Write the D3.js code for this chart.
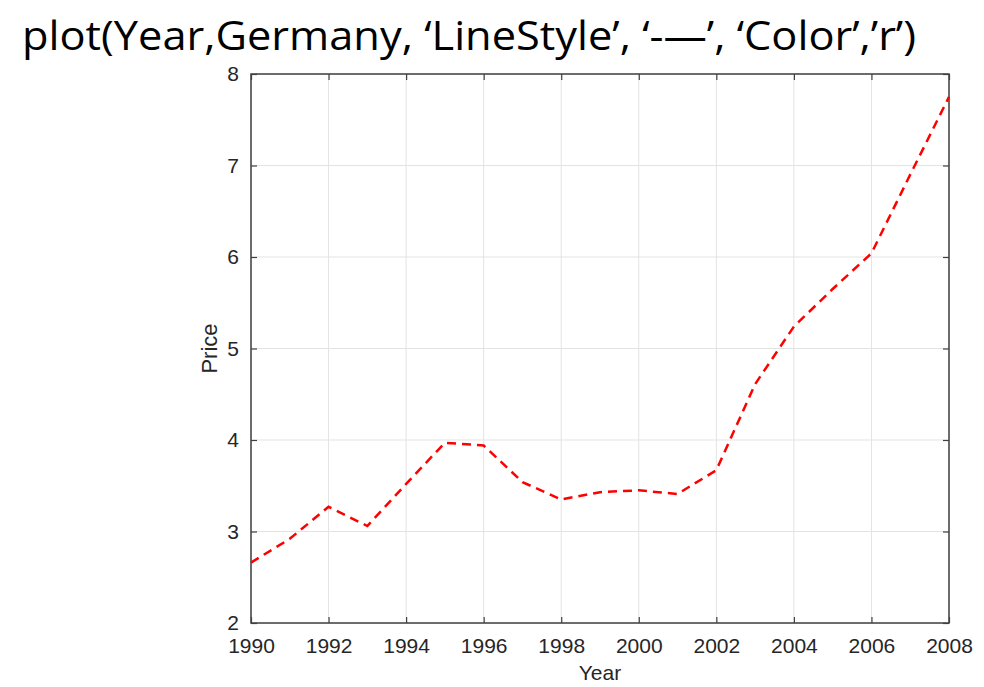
<!DOCTYPE html>
<html>
<head>
<meta charset="utf-8">
<script src="https://cdn.jsdelivr.net/npm/d3@7"></script>
<style>
  body { margin: 0; background: #fff; }
  svg { display: block; }
</style>
</head>
<body>
<div id="chart"></div>
<script>
// years on the x axis
const years = [1990, 1991, 1992, 1993, 1994, 1995, 1996, 1997, 1998, 1999,
               2000, 2001, 2002, 2003, 2004, 2005, 2006, 2007, 2008];
// Germany price series
const germany = [2.66, 2.92, 3.27, 3.06, 3.52, 3.97, 3.94, 3.54, 3.35, 3.43,
                 3.45, 3.41, 3.67, 4.61, 5.24, 5.65, 6.04, 6.90, 7.75];
const xTicks = [1990, 1992, 1994, 1996, 1998, 2000, 2002, 2004, 2006, 2008];
const yTicks = [2, 3, 4, 5, 6, 7, 8];
const titleText = "plot(Year,Germany, \u2018LineStyle\u2019, \u2018-\u2014\u2019, \u2018Color\u2019,\u2019r\u2019)";

const width = 984, height = 687;
const margin = { top: 74, right: 35, bottom: 64, left: 251 };
const plotW = width - margin.left - margin.right;
const plotH = height - margin.top - margin.bottom;
const axisColor = "#404040";
const font = "Liberation Sans, Arial, sans-serif";

const svg = d3.select("#chart")
  .append("svg")
  .attr("width", width)
  .attr("height", height);

// title
svg.append("text")
  .attr("x", 22)
  .attr("y", 50)
  .attr("textLength", 894)
  .attr("lengthAdjust", "spacingAndGlyphs")
  .attr("font-family", "Open Sans, Noto Sans, sans-serif")
  .attr("font-size", 41)
  .attr("fill", "#000")
  .text(titleText);

const g = svg.append("g")
  .attr("transform", `translate(${margin.left}, ${margin.top})`);

const x = d3.scaleLinear().domain([1990, 2008]).range([0, plotW]);
const y = d3.scaleLinear().domain([2, 8]).range([plotH, 0]);

// grid
g.append("g")
  .selectAll("line")
  .data(xTicks)
  .join("line")
  .attr("x1", d => x(d)).attr("x2", d => x(d))
  .attr("y1", 0).attr("y2", plotH)
  .attr("stroke", "#e3e3e3")
  .attr("stroke-width", 1);

g.append("g")
  .selectAll("line")
  .data(yTicks)
  .join("line")
  .attr("x1", 0).attr("x2", plotW)
  .attr("y1", d => y(d)).attr("y2", d => y(d))
  .attr("stroke", "#e3e3e3")
  .attr("stroke-width", 1);

// axes, ticks pointing inward like MATLAB
const tickLen = 6;
function styleAxis(sel) {
  sel.select(".domain").remove();
  sel.selectAll(".tick line").attr("stroke", axisColor).attr("stroke-width", 1.2);
  sel.selectAll(".tick text")
    .attr("fill", "#262626")
    .attr("font-family", font)
    .attr("font-size", 21);
}

g.append("g")
  .attr("transform", `translate(0, ${plotH})`)
  .call(d3.axisBottom(x).tickValues(xTicks).tickFormat(d3.format("d"))
    .tickSizeInner(-tickLen).tickSizeOuter(0).tickPadding(15))
  .call(styleAxis);

g.append("g")
  .call(d3.axisTop(x).tickValues(xTicks).tickFormat("")
    .tickSizeInner(-tickLen).tickSizeOuter(0))
  .call(styleAxis);

g.append("g")
  .call(d3.axisLeft(y).tickValues(yTicks).tickFormat(d3.format("d"))
    .tickSizeInner(-tickLen).tickSizeOuter(0).tickPadding(12))
  .call(styleAxis);

g.append("g")
  .attr("transform", `translate(${plotW}, 0)`)
  .call(d3.axisRight(y).tickValues(yTicks).tickFormat("")
    .tickSizeInner(-tickLen).tickSizeOuter(0))
  .call(styleAxis);

// box
g.append("rect")
  .attr("width", plotW)
  .attr("height", plotH)
  .attr("fill", "none")
  .attr("stroke", axisColor)
  .attr("stroke-width", 1.5);

// data line
const line = d3.line()
  .x((d, i) => x(years[i]))
  .y(d => y(d));

g.append("path")
  .datum(germany)
  .attr("d", line)
  .attr("fill", "none")
  .attr("stroke", "#ff0000")
  .attr("stroke-width", 2.5)
  .attr("stroke-dasharray", "9,6");

// axis labels
svg.append("text")
  .attr("x", margin.left + plotW / 2)
  .attr("y", 680)
  .attr("text-anchor", "middle")
  .attr("font-family", font)
  .attr("font-size", 21)
  .attr("fill", "#262626")
  .text("Year");

svg.append("text")
  .attr("transform", `translate(217, ${margin.top + plotH / 2}) rotate(-90)`)
  .attr("text-anchor", "middle")
  .attr("font-family", font)
  .attr("font-size", 22)
  .attr("fill", "#262626")
  .text("Price");
</script>
</body>
</html>
